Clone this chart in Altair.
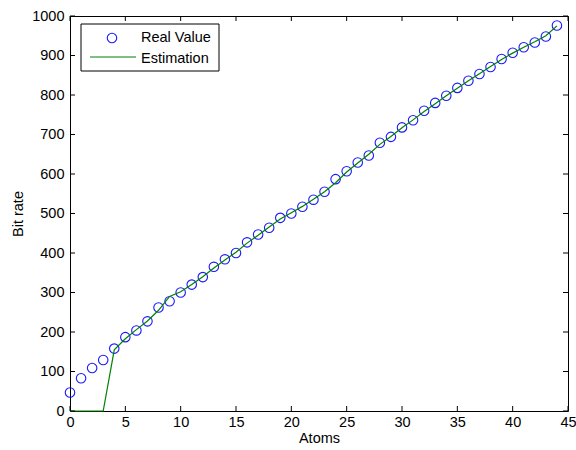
import altair as alt
import pandas as pd

atoms = list(range(45))
real_value = [47, 83, 109, 129, 158, 187, 204, 227, 262, 278,
              300, 320, 339, 365, 384, 400, 427, 447, 464, 489,
              500, 517, 535, 555, 587, 607, 629, 647, 679, 694,
              718, 736, 760, 780, 798, 818, 836, 853, 871, 891,
              907, 921, 933, 948, 976]
estimation = [0, 0, 0, 0, 155, 183, 206, 228, 255, 290,
              302, 320, 340, 362, 382, 402, 425, 445, 466, 486,
              502, 518, 536, 555, 578, 605, 628, 650, 675, 695,
              717, 737, 758, 778, 798, 817, 836, 854, 872, 890,
              906, 921, 935, 950, 975]
x_ticks = [0, 5, 10, 15, 20, 25, 30, 35, 40, 45]
y_ticks = [0, 100, 200, 300, 400, 500, 600, 700, 800, 900, 1000]
legend_labels = ["Real Value", "Estimation"]

W, H = 498, 395
FONT = "Liberation Sans"
FS = 14.5

df = pd.DataFrame({"Atoms": atoms, "Real": real_value, "Est": estimation})
xt = pd.DataFrame({"t": x_ticks})
yt = pd.DataFrame({"t": y_ticks})

xs = alt.Scale(domain=[0, 45], nice=False, zero=False)
ys = alt.Scale(domain=[0, 1000], nice=False, zero=False)

x_axis = alt.Axis(values=x_ticks, ticks=False, grid=False, domain=False,
                  format="d", labelOverlap=False,
                  labelFont=FONT, labelFontSize=FS, labelColor="black",
                  labelPadding=4, title="Atoms", titleFont=FONT,
                  titleFontSize=FS, titleFontWeight="normal", titleColor="black",
                  titlePadding=3, labelFlush=False)
y_axis = alt.Axis(values=y_ticks, ticks=False, grid=False, domain=False,
                  format="d", labelOverlap=False,
                  labelFont=FONT, labelFontSize=FS, labelColor="black",
                  labelPadding=6, title="Bit rate", titleFont=FONT,
                  titleFontSize=FS, titleFontWeight="normal", titleColor="black",
                  titlePadding=6, labelFlush=False)

pts = alt.Chart(df).mark_point(shape="circle", filled=False, color="#0000ff",
                               size=90, strokeWidth=1.1, opacity=0.9).encode(
    x=alt.X("Atoms:Q", scale=xs, axis=x_axis, title="Atoms"),
    y=alt.Y("Real:Q", scale=ys, axis=y_axis, title="Bit rate"),
)
line = alt.Chart(df).mark_line(color="#008000", strokeWidth=1.2).encode(
    x=alt.X("Atoms:Q", scale=xs, axis=x_axis, title="Atoms"),
    y=alt.Y("Est:Q", scale=ys, axis=y_axis, title="Bit rate"),
)

TL = 5
xb = alt.Chart(xt).mark_rule(color="black", strokeWidth=1).encode(
    x=alt.X("t:Q", scale=xs, axis=x_axis, title="Atoms"), y=alt.value(H), y2=alt.value(H - TL))
xtp = alt.Chart(xt).mark_rule(color="black", strokeWidth=1).encode(
    x=alt.X("t:Q", scale=xs, axis=x_axis, title="Atoms"), y=alt.value(0), y2=alt.value(TL))
yl = alt.Chart(yt).mark_rule(color="black", strokeWidth=1).encode(
    y=alt.Y("t:Q", scale=ys, axis=y_axis, title="Bit rate"), x=alt.value(0), x2=alt.value(TL))
yr = alt.Chart(yt).mark_rule(color="black", strokeWidth=1).encode(
    y=alt.Y("t:Q", scale=ys, axis=y_axis, title="Bit rate"), x=alt.value(W), x2=alt.value(W - TL))

leg_box = alt.Chart(pd.DataFrame({"a": [0]})).mark_rect(
    fill="white", stroke="black", strokeWidth=1).encode(
    x=alt.value(11), x2=alt.value(149), y=alt.value(8), y2=alt.value(55))
leg_pt = alt.Chart(pd.DataFrame({"a": [0]})).mark_point(
    shape="circle", filled=False, color="#0000ff", size=90, strokeWidth=1.1, opacity=0.9).encode(
    x=alt.value(42), y=alt.value(22))
leg_ln = alt.Chart(pd.DataFrame({"a": [0]})).mark_rule(
    color="#008000", strokeWidth=1.2).encode(
    x=alt.value(20), x2=alt.value(66), y=alt.value(41))
leg_t1 = alt.Chart(pd.DataFrame({"label": [legend_labels[0]]})).mark_text(
    align="left", baseline="middle", font=FONT, fontSize=FS, color="black").encode(
    x=alt.value(71), y=alt.value(22), text="label:N")
leg_t2 = alt.Chart(pd.DataFrame({"label": [legend_labels[1]]})).mark_text(
    align="left", baseline="middle", font=FONT, fontSize=FS, color="black").encode(
    x=alt.value(71), y=alt.value(43), text="label:N")

chart = alt.layer(pts, line, xb, xtp, yl, yr, leg_box, leg_pt, leg_ln, leg_t1, leg_t2).properties(
    width=W, height=H,
    autosize=alt.AutoSizeParams(type="none"),
    padding={"left": 70, "top": 16, "right": 8, "bottom": 39},
    background="white",
).configure_view(stroke="black", strokeWidth=1).configure_axis(labelOverlap=False)

chart.save("out.html", embed_options={"renderer": "svg", "actions": False})
